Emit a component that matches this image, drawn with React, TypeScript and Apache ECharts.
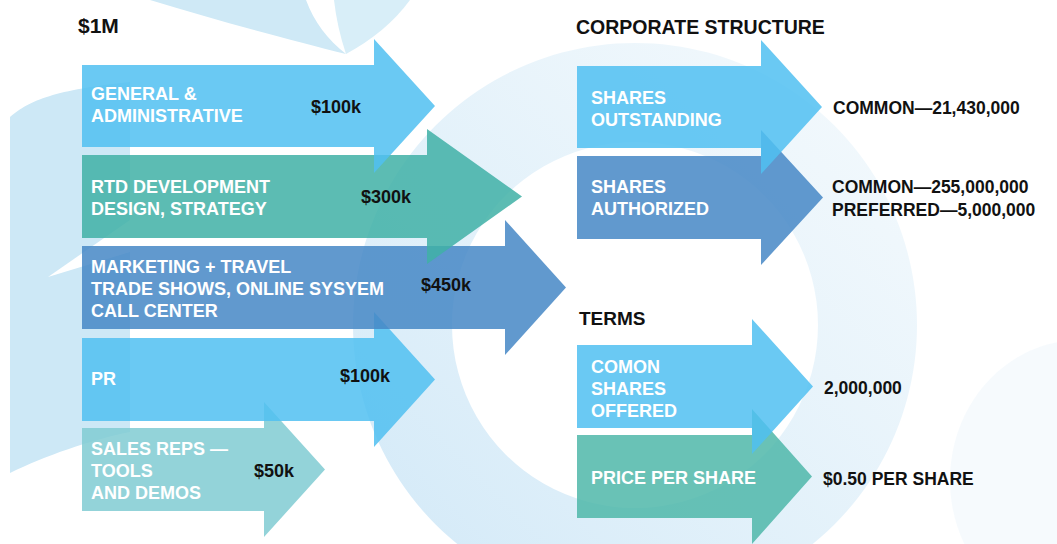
import React, { useEffect, useRef } from "react";
import * as echarts from "echarts";

// ---------- content ----------
const budgetTitle = "$1M";
const budgetLabels: string[][] = [
  ["GENERAL &", "ADMINISTRATIVE"],
  ["RTD DEVELOPMENT", "DESIGN, STRATEGY"],
  ["MARKETING + TRAVEL", "TRADE SHOWS, ONLINE SYSYEM", "CALL CENTER"],
  ["PR"],
  ["SALES REPS —", "TOOLS", "AND DEMOS"],
];
const budgetValues = ["$100k", "$300k", "$450k", "$100k", "$50k"];

const corpTitle = "CORPORATE STRUCTURE";
const corpLabels: string[][] = [
  ["SHARES", "OUTSTANDING"],
  ["SHARES", "AUTHORIZED"],
];
const corpValues: string[][] = [
  ["COMMON—21,430,000"],
  ["COMMON—255,000,000", "PREFERRED—5,000,000"],
];

const termsTitle = "TERMS";
const termsLabels: string[][] = [["COMON", "SHARES", "OFFERED"], ["PRICE PER SHARE"]];
const termsValues: string[][] = [["2,000,000"], ["$0.50 PER SHARE"]];

// ---------- layout (geometry & style) ----------
const FONT = "'Liberation Sans', Arial, sans-serif";
const LIGHT_BLUE = "#50bff1";
const TEAL = "#3fb0a6";
const DARK_BLUE = "#4587c6";
const PALE_TEAL = "#80cbd2";
const PRICE_TEAL = "#4fb7a9";

type Arrow = { x0: number; top: number; bot: number; hs: number; tip: number; color: string };
const leftArrows: Arrow[] = [
  { x0: 82, top: 65, bot: 147, hs: 374, tip: 435, color: LIGHT_BLUE },
  { x0: 82, top: 155, bot: 238, hs: 427, tip: 522, color: TEAL },
  { x0: 82, top: 246, bot: 329, hs: 505, tip: 566, color: DARK_BLUE },
  { x0: 82, top: 338, bot: 421, hs: 374, tip: 435, color: LIGHT_BLUE },
  { x0: 82, top: 428, bot: 511, hs: 264, tip: 325, color: PALE_TEAL },
];
const rightArrows: Arrow[] = [
  { x0: 577, top: 66, bot: 148, hs: 761, tip: 822, color: LIGHT_BLUE },
  { x0: 577, top: 156, bot: 239, hs: 761, tip: 823, color: DARK_BLUE },
  { x0: 577, top: 345, bot: 428, hs: 752, tip: 813, color: LIGHT_BLUE },
  { x0: 577, top: 435, bot: 518, hs: 752, tip: 812, color: PRICE_TEAL },
];
const HEAD = 26;
const leftValueX = [311, 361, 421, 340, 254];
const leftValueY = [107, 197, 285, 376, 471];
const leftLabelCenter = [105, 197.5, 288.5, 379, 471];
const rightLabelCenter = [109, 198, 389, 478];
const rightValueX = [833, 832, 824, 823];
const rightValueCenter = [108, 198.5, 388, 479];

echarts.graphic.registerShape(
  "swooshLeft",
  echarts.graphic.extendPath(
    "M10,117 C30,100 55,90 130,82 L130,432 C90,440 45,456 10,473 Z",
    {}
  )
);
echarts.graphic.registerShape(
  "swooshTopA",
  echarts.graphic.extendPath("M150,0 L306,0 C314,22 328,40 346,54 C290,40 215,20 150,0 Z", {})
);
echarts.graphic.registerShape(
  "swooshTopB",
  echarts.graphic.extendPath("M334,0 L410,0 C394,22 372,40 346,54 C340,36 336,18 334,0 Z", {})
);

function arrowShape(a: Arrow) {
  const cy = (a.top + a.bot) / 2;
  return [
    [a.x0, a.top],
    [a.hs, a.top],
    [a.hs, a.top - HEAD],
    [a.tip, cy],
    [a.hs, a.bot + HEAD],
    [a.hs, a.bot],
    [a.x0, a.bot],
  ];
}

function textLines(lines: string[], x: number, center: number, lh: number, fill: string, size: number) {
  const start = center - ((lines.length - 1) * lh) / 2;
  return lines.map((t, i) => ({
    type: "text",
    z: 10,
    style: {
      text: t,
      x,
      y: start + i * lh,
      fill,
      fontSize: size,
      fontWeight: "bold",
      fontFamily: FONT,
      verticalAlign: "middle",
      align: "left",
    },
  }));
}

export default function App() {
  const ref = useRef<HTMLDivElement>(null);
  useEffect(() => {
    if (!ref.current) return;
    const chart = echarts.init(ref.current, undefined, { renderer: "svg" });
    const elements: any[] = [];

    // background
    elements.push({ type: "rect", z: 0, shape: { x: 0, y: 0, width: 1057, height: 544 }, style: { fill: "#ffffff" } });
    elements.push({
      type: "ring",
      z: 0,
      shape: { cx: 635, cy: 325, r: 282, r0: 183 },
      style: {
        fill: new echarts.graphic.LinearGradient(0, 1, 1, 0, [
          { offset: 0, color: "rgba(200,228,246,0.85)" },
          { offset: 0.5, color: "rgba(210,233,247,0.6)" },
          { offset: 1, color: "rgba(225,240,249,0.35)" },
        ]),
      },
    });
    elements.push({ type: "ellipse", z: 0, shape: { cx: 1080, cy: 480, rx: 130, ry: 140 }, style: { fill: "#e8f3f9", opacity: 0.4 } });
    elements.push({ type: "swooshLeft", z: 0, style: { fill: "#cde8f6" } });
    elements.push({ type: "polygon", z: 0, shape: { points: [[48, 277], [130, 220], [130, 252]] }, style: { fill: "#ffffff" } });
    elements.push({ type: "swooshTopA", z: 0, style: { fill: "#cfe9f6" } });
    elements.push({ type: "swooshTopB", z: 0, style: { fill: "#d8eef8" } });

    // arrows: draw bottom first so upper arrows overlap lower ones
    [...leftArrows].reverse().forEach((a) => {
      elements.push({ type: "polygon", z: 5, shape: { points: arrowShape(a) }, style: { fill: a.color, opacity: 0.85 } });
    });
    [...rightArrows].reverse().forEach((a) => {
      elements.push({ type: "polygon", z: 5, shape: { points: arrowShape(a) }, style: { fill: a.color, opacity: 0.85 } });
    });

    // titles
    elements.push(...textLines([budgetTitle], 78, 25, 0, "#111111", 21));
    elements.push(...textLines([corpTitle], 576, 27, 0, "#111111", 19.5));
    elements.push(...textLines([termsTitle], 579, 318, 0, "#111111", 19));

    // left labels & values
    budgetLabels.forEach((lines, i) => {
      elements.push(...textLines(lines, 91, leftLabelCenter[i], 22, "#ffffff", 18));
      elements.push(...textLines([budgetValues[i]], leftValueX[i], leftValueY[i], 0, "#111111", 18));
    });

    // right labels & values
    const rLabels = [...corpLabels, ...termsLabels];
    const rValues = [...corpValues, ...termsValues];
    rLabels.forEach((lines, i) => {
      elements.push(...textLines(lines, 591, rightLabelCenter[i], 22, "#ffffff", 18));
      elements.push(...textLines(rValues[i], rightValueX[i], rightValueCenter[i], 23, "#111111", 17.5));
    });

    chart.setOption({
      animation: false,
      backgroundColor: "#ffffff",
      graphic: { elements },
      series: [],
    });
    return () => chart.dispose();
  }, []);
  return (
    <div
      ref={ref}
      style={{ position: "fixed", left: 0, top: 0, width: 1057, height: 544 }}
    />
  );
}
